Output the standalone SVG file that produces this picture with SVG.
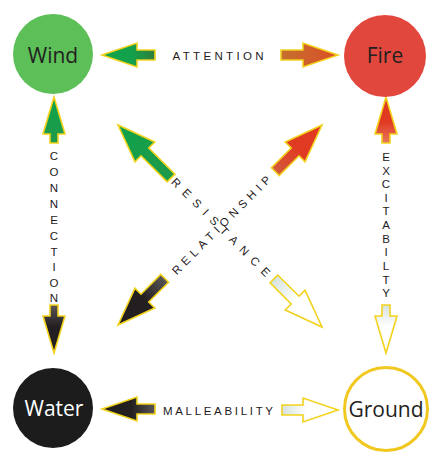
<svg xmlns="http://www.w3.org/2000/svg" width="439" height="463" viewBox="0 0 439 463">
<style>
.node-label{font-family:"Open Sans","Noto Sans",sans-serif;font-size:21px;text-anchor:middle}
.lbl{font-family:"Liberation Sans",Arial,sans-serif;font-size:11.5px;fill:#1e1a1b;text-anchor:middle}
.vl{font-family:"Liberation Sans",Arial,sans-serif;font-size:11.5px;fill:#1e1a1b;text-anchor:middle}
.arrow{stroke:#f2d21c;stroke-width:1.6;stroke-linejoin:miter}
</style>
<defs>
<linearGradient id="gGreen" x1="0" y1="0" x2="1" y2="0"><stop offset="0" stop-color="#2f7d3b"/><stop offset="0.45" stop-color="#12a24b"/><stop offset="1" stop-color="#12a24b"/></linearGradient>
<linearGradient id="gGreen2" x1="0" y1="0" x2="1" y2="0"><stop offset="0" stop-color="#1f9a4a"/><stop offset="1" stop-color="#0fa24b"/></linearGradient>
<linearGradient id="gOrange" x1="0" y1="0" x2="1" y2="0"><stop offset="0" stop-color="#c4702f"/><stop offset="1" stop-color="#dc4e27"/></linearGradient>
<linearGradient id="gRed" x1="0" y1="0" x2="1" y2="0"><stop offset="0" stop-color="#e7765e"/><stop offset="0.45" stop-color="#e03b22"/><stop offset="1" stop-color="#e03b22"/></linearGradient>
<linearGradient id="gRed2" x1="0" y1="0" x2="1" y2="0"><stop offset="0" stop-color="#d45a3c"/><stop offset="0.5" stop-color="#e03b22"/><stop offset="1" stop-color="#e03b22"/></linearGradient>
<linearGradient id="gBlack" x1="0" y1="0" x2="1" y2="0"><stop offset="0" stop-color="#5a5656"/><stop offset="0.45" stop-color="#231f20"/><stop offset="1" stop-color="#231f20"/></linearGradient>
<linearGradient id="gWhite" x1="0" y1="0" x2="1" y2="0"><stop offset="0" stop-color="#d5e2dd"/><stop offset="0.45" stop-color="#ffffff"/><stop offset="1" stop-color="#ffffff"/></linearGradient>
</defs>

<g id="connectors">
  <!-- ATTENTION -->
  <path class="arrow" fill="url(#gGreen)" transform="translate(102,55) rotate(180)" d="M0,0 L-35,-12 L-35,-5 L-53,-5 L-53,5 L-35,5 L-35,12 Z"/>
  <path class="arrow" fill="url(#gOrange)" transform="translate(338,55)" d="M0,0 L-35,-12 L-35,-5 L-57,-5 L-57,5 L-35,5 L-35,12 Z"/>
  <text class="lbl" x="218" y="60" textLength="91" lengthAdjust="spacing">ATTENTION</text>

  <!-- MALLEABILITY -->
  <path class="arrow" fill="url(#gBlack)" transform="translate(102,409) rotate(180)" d="M0,0 L-35,-12 L-35,-5 L-53,-5 L-53,5 L-35,5 L-35,12 Z"/>
  <path class="arrow" fill="url(#gWhite)" transform="translate(338,410)" d="M0,0 L-35,-12 L-35,-5 L-56,-5 L-56,5 L-35,5 L-35,12 Z"/>
  <text class="lbl" x="218" y="414.5" textLength="110" lengthAdjust="spacing">MALLEABILITY</text>

  <!-- CONNECTION -->
  <path class="arrow" fill="url(#gGreen2)" transform="translate(54,97) rotate(-90)" d="M0,0 L-37,-11 L-37,-4 L-46,-4 L-46,4 L-37,4 L-37,11 Z"/>
  <path class="arrow" fill="url(#gBlack)" transform="translate(54,353) rotate(90)" d="M0,0 L-37,-11 L-37,-4 L-48,-4 L-48,4 L-37,4 L-37,11 Z"/>
  <g class="vl">
    <text x="54" y="160">C</text><text x="54" y="176">O</text><text x="54" y="192">N</text><text x="54" y="208">N</text><text x="54" y="224">E</text><text x="54" y="240">C</text><text x="54" y="256">T</text><text x="54" y="271">I</text><text x="54" y="287">O</text><text x="54" y="302">N</text>
  </g>

  <!-- EXCITABILTY -->
  <path class="arrow" fill="url(#gRed)" transform="translate(386,97) rotate(-90)" d="M0,0 L-37,-11 L-37,-4 L-46,-4 L-46,4 L-37,4 L-37,11 Z"/>
  <path class="arrow" fill="url(#gWhite)" transform="translate(386,353) rotate(90)" d="M0,0 L-37,-11 L-37,-4 L-48,-4 L-48,4 L-37,4 L-37,11 Z"/>
  <g class="vl">
    <text x="386" y="161">E</text><text x="386" y="175">X</text><text x="386" y="188">C</text><text x="386" y="202">I</text><text x="386" y="215">T</text><text x="386" y="229">A</text><text x="386" y="243">B</text><text x="386" y="256">I</text><text x="386" y="270">L</text><text x="386" y="284">T</text><text x="386" y="297">Y</text>
  </g>

  <!-- diagonals -->
  <path class="arrow" fill="url(#gGreen2)" transform="translate(118,125) rotate(-135)" d="M0,0 L-38,-14 L-38,-5.5 L-75,-5.5 L-75,5.5 L-38,5.5 L-38,14 Z"/>
  <path class="arrow" fill="url(#gRed2)" transform="translate(322,125) rotate(-45)" d="M0,0 L-38,-14 L-38,-5.5 L-66,-5.5 L-66,5.5 L-38,5.5 L-38,14 Z"/>
  <path class="arrow" fill="url(#gBlack)" transform="translate(118,325) rotate(135)" d="M0,0 L-38,-14 L-38,-5.5 L-66,-5.5 L-66,5.5 L-38,5.5 L-38,14 Z"/>
  <path class="arrow" fill="url(#gWhite)" transform="translate(322,327) rotate(45)" d="M0,0 L-38,-14 L-38,-5.5 L-68,-5.5 L-68,5.5 L-38,5.5 L-38,14 Z"/>
  <text class="lbl" font-size="12" transform="translate(221,227) rotate(45)" x="0" y="4.3" textLength="134" lengthAdjust="spacing">RESISTANCE</text>
  <text class="lbl" font-size="12" transform="translate(221,225) rotate(-45)" x="0" y="4.3" textLength="134" lengthAdjust="spacing">RELATIONSHIP</text>
</g>

<g id="wind">
  <circle cx="53" cy="54" r="40" fill="#5dbf57"/>
  <text class="node-label" x="53" y="63" fill="#231f20">Wind</text>
</g>
<g id="fire">
  <circle cx="385" cy="56" r="41" fill="#e2473d"/>
  <text class="node-label" x="385" y="63" fill="#231f20">Fire</text>
</g>
<g id="water">
  <circle cx="53" cy="408" r="40" fill="#1c1c1c"/>
  <text class="node-label" x="54" y="416" fill="#ffffff">Water</text>
</g>
<g id="ground">
  <circle cx="386" cy="409" r="41.5" fill="#ffffff" stroke="#f1c81f" stroke-width="3"/>
  <text class="node-label" x="386" y="417" fill="#231f20">Ground</text>
</g>
</svg>
